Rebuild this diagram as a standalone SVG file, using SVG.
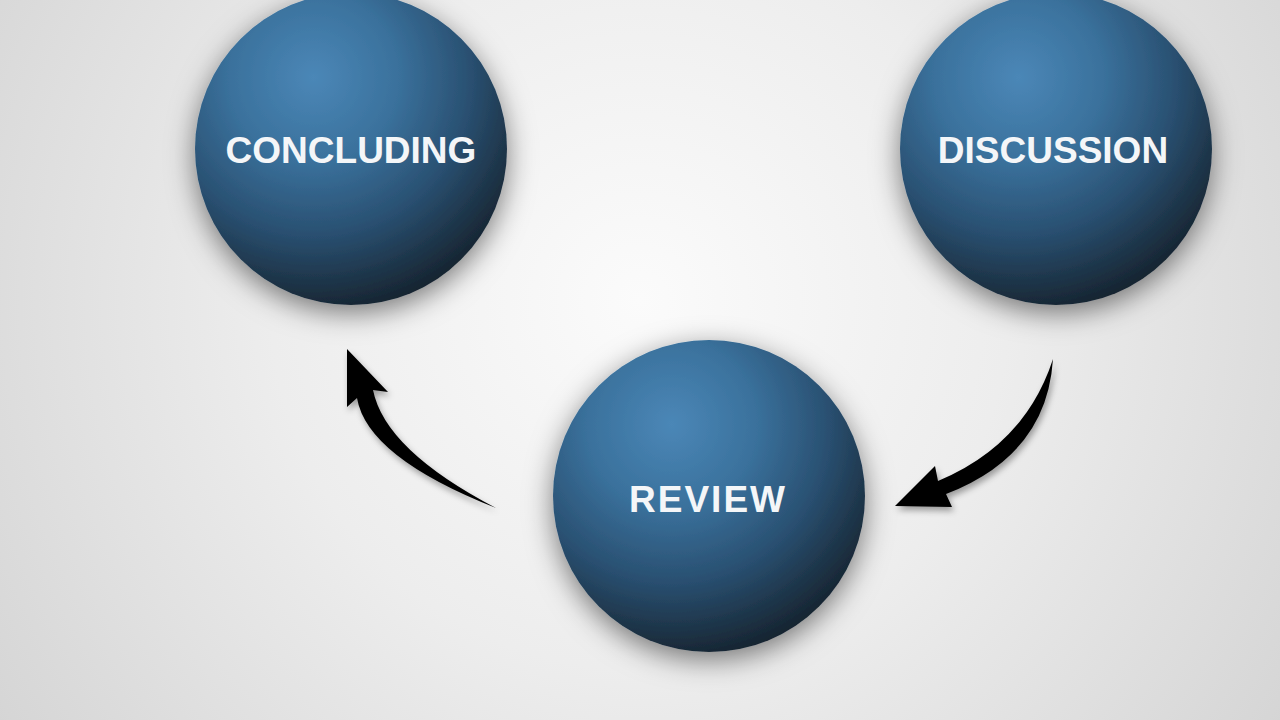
<svg xmlns="http://www.w3.org/2000/svg" width="1280" height="720" viewBox="0 0 1280 720">
<defs>
<radialGradient id="bg" cx="640" cy="300" r="820" gradientUnits="userSpaceOnUse">
<stop offset="0" stop-color="#fbfbfb"/>
<stop offset="0.45" stop-color="#ededed"/>
<stop offset="1" stop-color="#d2d2d2"/>
</radialGradient>
<radialGradient id="sphere" cx="0.38" cy="0.27" r="0.82" fx="0.38" fy="0.27">
<stop offset="0" stop-color="#4b87b7"/>
<stop offset="0.33" stop-color="#3a719c"/>
<stop offset="0.62" stop-color="#294f70"/>
<stop offset="0.85" stop-color="#1b2e3f"/>
<stop offset="1" stop-color="#111a22"/>
</radialGradient>
<filter id="sh" x="-30%" y="-30%" width="160%" height="160%">
<feDropShadow dx="0" dy="8" stdDeviation="14" flood-color="#000" flood-opacity="0.5"/>
</filter>
<filter id="ash" x="-30%" y="-30%" width="160%" height="160%">
<feDropShadow dx="2" dy="4" stdDeviation="3" flood-color="#000" flood-opacity="0.35"/>
</filter>
<style>
.ball{fill:url(#sphere);filter:url(#sh);}
.lbl{font-family:"Liberation Sans",Arial,Helvetica,sans-serif;font-weight:bold;font-size:37px;fill:#f4f6f8;text-anchor:middle;}
.arrow{fill:#050505;filter:url(#ash);}
</style>
</defs>
<rect width="1280" height="720" fill="url(#bg)"/>
<g id="connectors">
<path class="arrow" d="M347,349 L388,392 L373,390 Q385,450 496,508 Q367,457 357,398 L347,407 Z"/>
<path class="arrow" d="M895,506 L935,466 L938,481 Q1025,445 1053,359 Q1047,455 946,494 L952,507 Z"/>
</g>
<g id="node-concluding">
<circle class="ball" cx="351" cy="149" r="156"/>
<text class="lbl" x="351" y="163">CONCLUDING</text>
</g>
<g id="node-discussion">
<circle class="ball" cx="1056" cy="149" r="156"/>
<text class="lbl" x="1053" y="163">DISCUSSION</text>
</g>
<g id="node-review">
<circle class="ball" cx="709" cy="496" r="156"/>
<text class="lbl" x="707" y="512" textLength="156" lengthAdjust="spacing">REVIEW</text>
</g>
</svg>
